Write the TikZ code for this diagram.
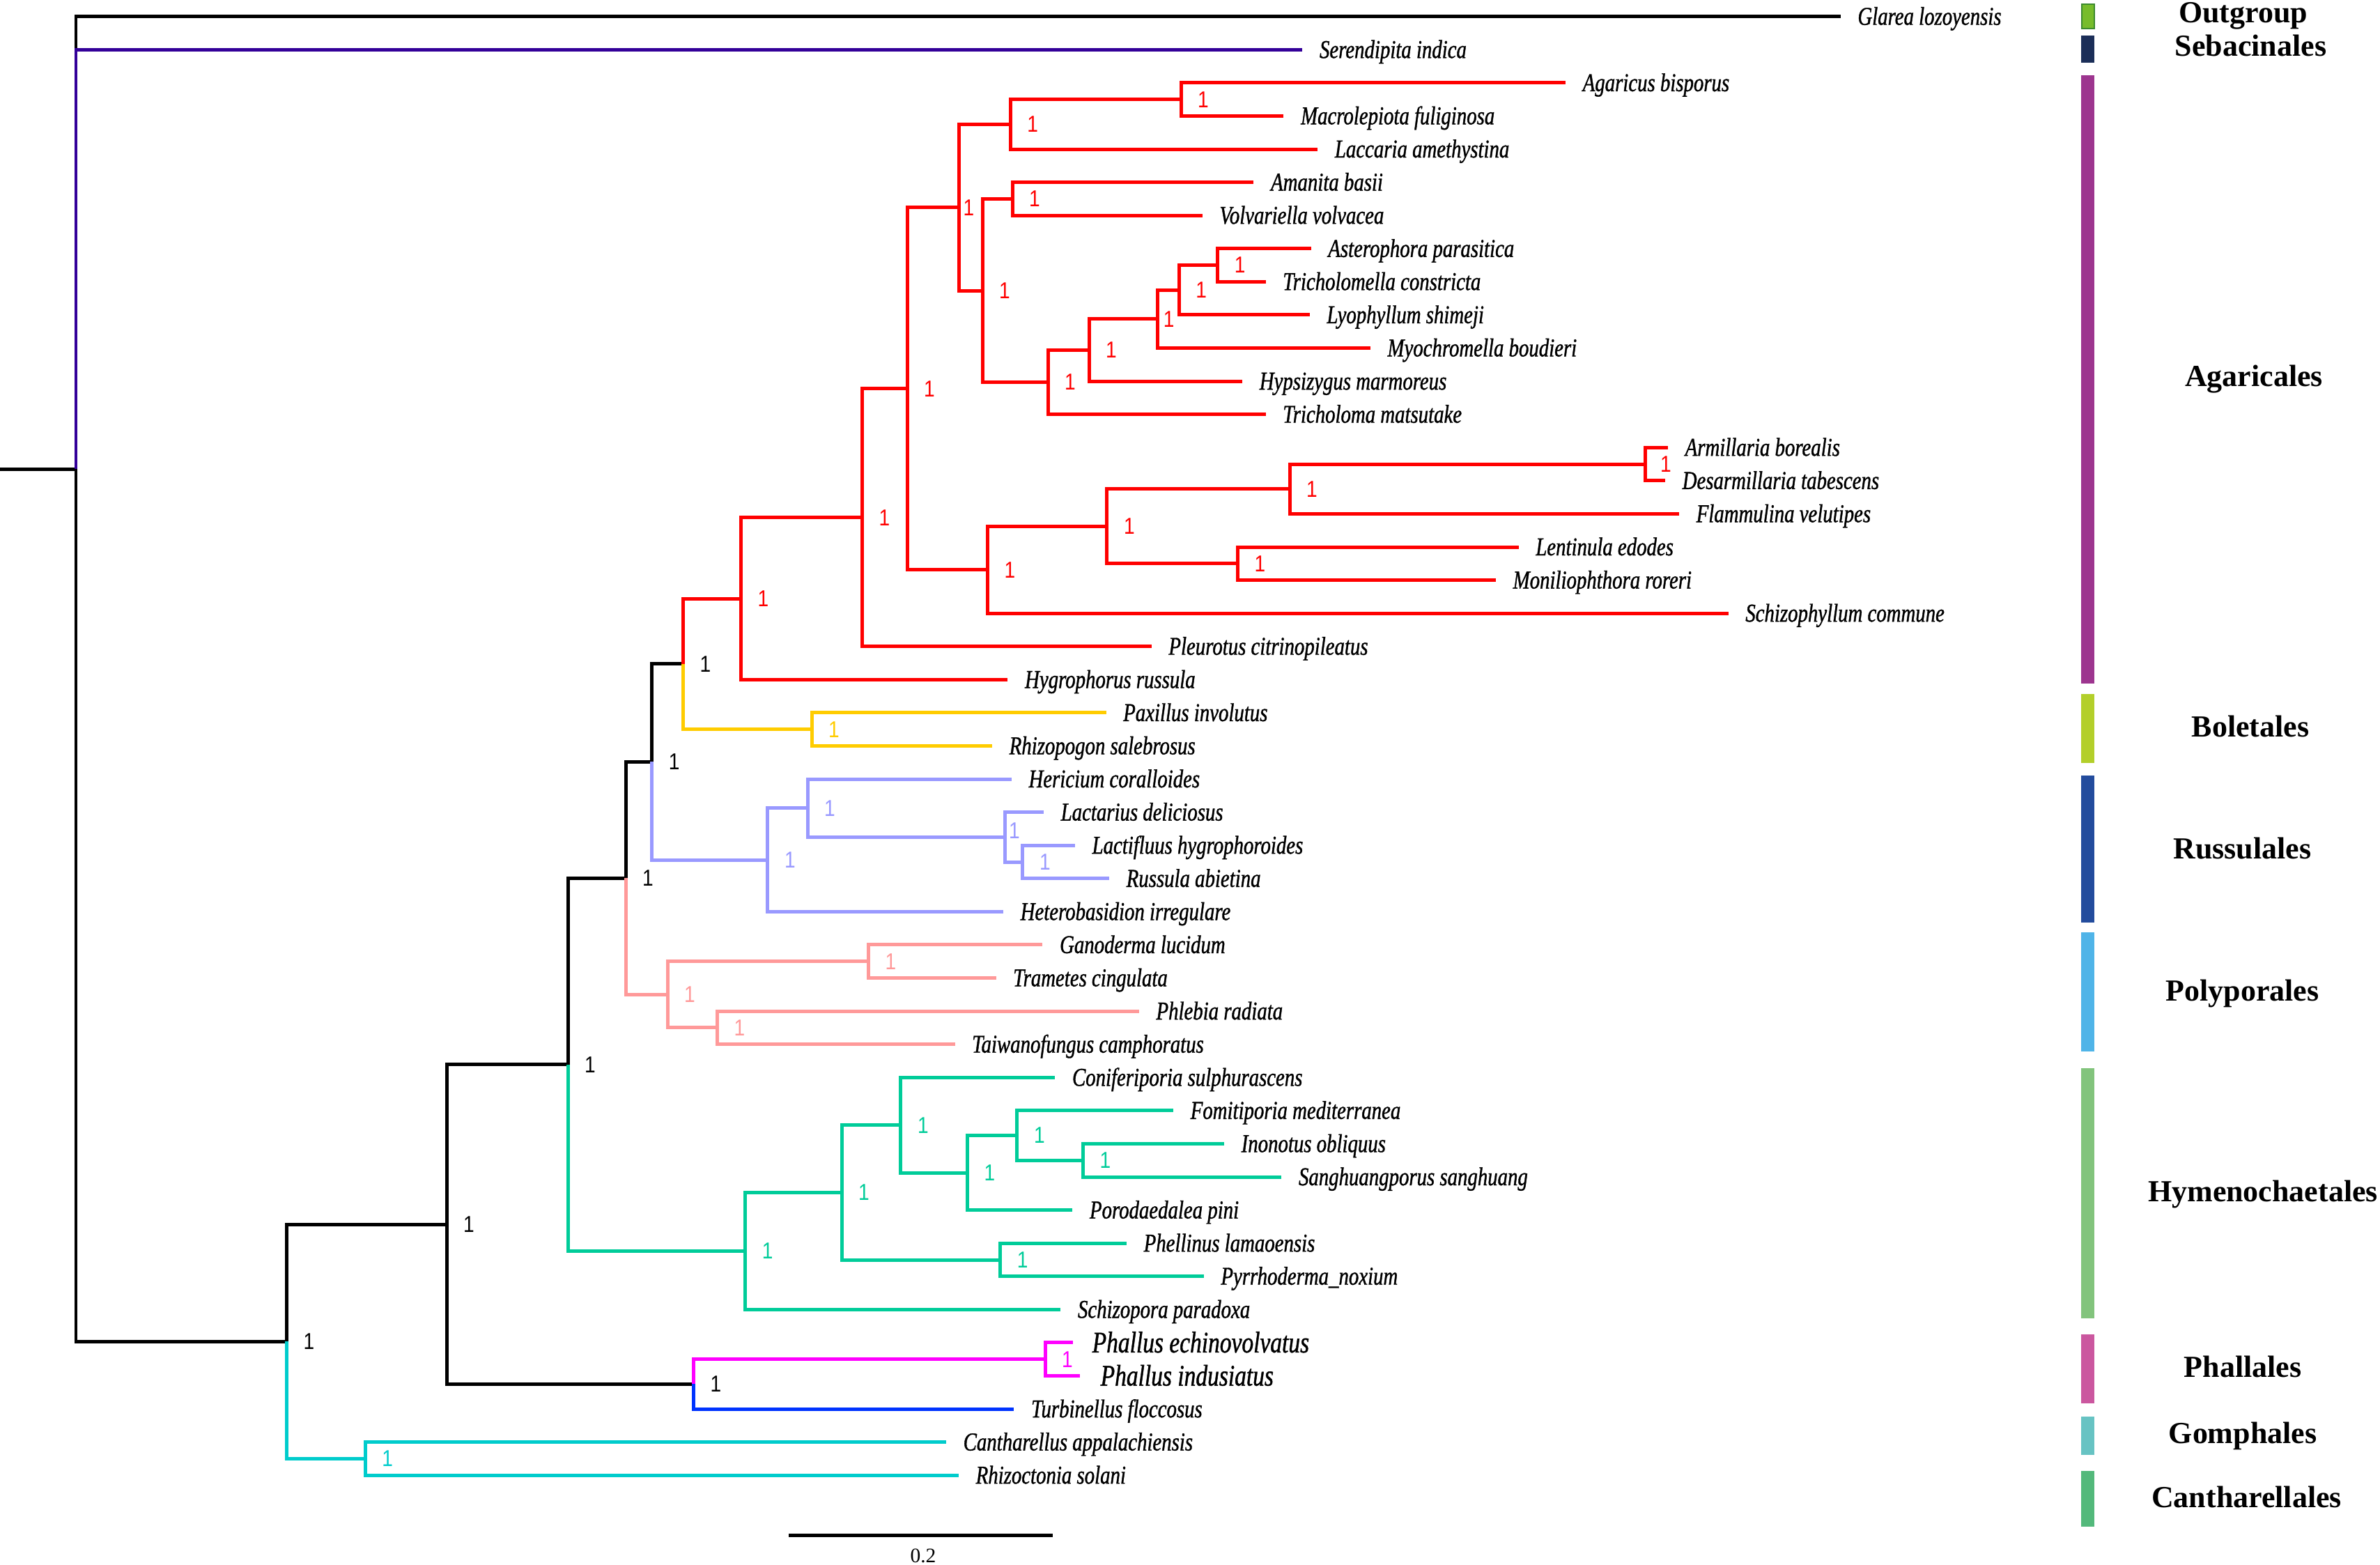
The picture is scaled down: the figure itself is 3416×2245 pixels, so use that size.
\documentclass[tikz,border=0pt]{standalone}
\usepackage{fontspec}
\setmainfont{Liberation Serif}
\newfontfamily\leaffont[FakeStretch=0.78,FakeBold=1]{Liberation Serif}
\newfontfamily\bsfont[FakeStretch=0.85]{Liberation Sans}
\usetikzlibrary{calc}
\definecolor{cPur}{HTML}{330099}
\definecolor{cRed}{HTML}{FF0000}
\definecolor{cYel}{HTML}{FFCC00}
\definecolor{cLav}{HTML}{9999FF}
\definecolor{cPink}{HTML}{FF9999}
\definecolor{cGrn}{HTML}{00CC99}
\definecolor{cMag}{HTML}{FF00FF}
\definecolor{cBlu}{HTML}{0033FF}
\definecolor{cCya}{HTML}{00CCCC}
\definecolor{gOut}{HTML}{77BC2B}
\definecolor{gOutB}{HTML}{3C8A2E}
\definecolor{gSeb}{HTML}{1B2E58}
\definecolor{gAga}{HTML}{9D358F}
\definecolor{gBol}{HTML}{B3CF2A}
\definecolor{gRus}{HTML}{234C9D}
\definecolor{gPol}{HTML}{4FB4E8}
\definecolor{gHym}{HTML}{82C47C}
\definecolor{gPha}{HTML}{CB579F}
\definecolor{gGom}{HTML}{67C3C3}
\definecolor{gCan}{HTML}{53B97B}
\newcommand\brn[3]{\draw[br,#1] (#2) |- (#3);}
\newcommand\lbl[2]{\node[leaf] (t-#1) at ($(#1)+(24,12)$) {#2};}
\newcommand\bsl[3][32]{\node[bs,text=#2] (b-#3) at ($(#3)+(#1,0)$) {1};}
\begin{document}
\begin{tikzpicture}[x=0.01cm,y=-0.01cm,
  br/.style={line width=1.42pt,line join=miter},
  leaf/.style={anchor=base west,inner sep=0pt,font=\leaffont\itshape\fontsize{10.5}{12}\selectfont},
  bigleaf/.style={leaf,font=\leaffont\itshape\fontsize{12.2}{14}\selectfont},
  bs/.style={inner sep=0pt,font=\bsfont\fontsize{9.4}{11}\selectfont},
  ord/.style={anchor=base,inner sep=0pt,font=\bfseries\fontsize{12.5}{15}\selectfont}]
\useasboundingbox (0,0) rectangle (3416,2245);
\fill[white] (0,0) rectangle (3416,2245);
% leaf ends
\coordinate (glar) at (2641.7,23.7);
\coordinate (sere) at (1869.3,71.3);
\coordinate (agar) at (2247,118.9);
\coordinate (macr) at (1842.4,166.4);
\coordinate (lacc) at (1891.2,214.0);
\coordinate (aman) at (1799.4,261.6);
\coordinate (volv) at (1725.7,309.2);
\coordinate (aste) at (1881.6,356.8);
\coordinate (tric1) at (1816.6,404.3);
\coordinate (lyop) at (1879.7,451.9);
\coordinate (myoc) at (1966.8,499.5);
\coordinate (hyps) at (1783.1,547.1);
\coordinate (tric2) at (1816.6,594.7);
\coordinate (arm) at (2394,642.2);
\coordinate (desa) at (2390,689.8);
\coordinate (flam) at (2410,737.4);
\coordinate (lent) at (2179.6,785.0);
\coordinate (moni) at (2147,832.6);
\coordinate (schi) at (2480.6,880.1);
\coordinate (pleu) at (1652.7,927.7);
\coordinate (hygr) at (1446.4,975.3);
\coordinate (paxi) at (1587.5,1022.9);
\coordinate (rhiz) at (1424,1070.5);
\coordinate (heri) at (1451.8,1118.0);
\coordinate (lact) at (1498,1165.6);
\coordinate (lacf) at (1542.9,1213.2);
\coordinate (russ) at (1592,1260.8);
\coordinate (hete) at (1440,1308.4);
\coordinate (gano) at (1496.4,1355.9);
\coordinate (tram) at (1429.5,1403.5);
\coordinate (phle) at (1634.8,1451.1);
\coordinate (taiw) at (1370.5,1498.7);
\coordinate (coni) at (1514.3,1546.3);
\coordinate (fomi) at (1684,1593.8);
\coordinate (inon) at (1757,1641.4);
\coordinate (sang) at (1839.3,1689.0);
\coordinate (poro) at (1539.3,1736.6);
\coordinate (phel) at (1617,1784.2);
\coordinate (pyrr) at (1727.7,1831.7);
\coordinate (schz) at (1522.3,1879.3);
\coordinate (phae) at (1540,1926.9);
\coordinate (phai) at (1550,1974.5);
\coordinate (turb) at (1455.4,2022.1);
\coordinate (cant) at (1358,2069.6);
\coordinate (rhzc) at (1376,2117.2);
% internal nodes
\coordinate (rootstub) at (0,673.4);
\coordinate (root) at (109,673.4);
\coordinate (n189) at (411.4,1925.3);
\coordinate (n241) at (524.2,2093.4);
\coordinate (n295) at (641,1757.2);
\coordinate (n457) at (995.5,1986.4);
\coordinate (n689) at (1500,1950.7);
\coordinate (n374) at (815,1527.9);
\coordinate (n491) at (1069.6,1795.3);
\coordinate (n554) at (1208,1711.3);
\coordinate (n594) at (1292.9,1614.7);
\coordinate (n637) at (1388.4,1683.0);
\coordinate (n670) at (1459.8,1629.5);
\coordinate (n713) at (1554.5,1665.2);
\coordinate (n659) at (1435.7,1808.0);
\coordinate (n413) at (898,1260.4);
\coordinate (n440) at (958,1427.3);
\coordinate (n572) at (1246.4,1379.7);
\coordinate (n472) at (1029.5,1474.9);
\coordinate (n430) at (935.7,1093.4);
\coordinate (n506) at (1101.8,1234.0);
\coordinate (n532) at (1159,1159.7);
\coordinate (n662) at (1442,1201.3);
\coordinate (n674) at (1467.9,1237.0);
\coordinate (n450) at (980.4,952.8);
\coordinate (n535) at (1165,1046.7);
\coordinate (n488) at (1063.4,859.0);
\coordinate (n568) at (1237.5,742.7);
\coordinate (n598) at (1302,557.7);
\coordinate (n632) at (1376.5,297.7);
\coordinate (n666) at (1450.2,178.3);
\coordinate (n778) at (1695,142.65);
\coordinate (n647) at (1410,417.0);
\coordinate (n667) at (1453,285.4);
\coordinate (n690) at (1504,548.6);
\coordinate (n717) at (1563,502.5);
\coordinate (n763) at (1661.6,457.9);
\coordinate (n777) at (1692.2,416.2);
\coordinate (n802) at (1747.7,380.55);
\coordinate (n651) at (1417.3,817.7);
\coordinate (n729) at (1588.8,755.2);
\coordinate (n850) at (1851,701.7);
\coordinate (n1084) at (2361,666.0);
\coordinate (n815) at (1776.5,808.8);
% branches
\draw[br] (rootstub) -- (root);
\brn{black}{root}{glar}
\brn{cPur}{root}{sere}
\brn{black}{root}{n189}
\brn{black}{n189}{n295}
\brn{cCya}{n189}{n241}
\brn{cCya}{n241}{cant}
\brn{cCya}{n241}{rhzc}
\brn{black}{n295}{n374}
\brn{black}{n295}{n457}
\brn{cMag}{n457}{n689}
\brn{cBlu}{n457}{turb}
\brn{cMag}{n689}{phae}
\brn{cMag}{n689}{phai}
\brn{black}{n374}{n413}
\brn{cGrn}{n374}{n491}
\brn{cGrn}{n491}{n554}
\brn{cGrn}{n491}{schz}
\brn{cGrn}{n554}{n594}
\brn{cGrn}{n554}{n659}
\brn{cGrn}{n594}{coni}
\brn{cGrn}{n594}{n637}
\brn{cGrn}{n637}{n670}
\brn{cGrn}{n637}{poro}
\brn{cGrn}{n670}{fomi}
\brn{cGrn}{n670}{n713}
\brn{cGrn}{n713}{inon}
\brn{cGrn}{n713}{sang}
\brn{cGrn}{n659}{phel}
\brn{cGrn}{n659}{pyrr}
\brn{black}{n413}{n430}
\brn{cPink}{n413}{n440}
\brn{cPink}{n440}{n572}
\brn{cPink}{n440}{n472}
\brn{cPink}{n572}{gano}
\brn{cPink}{n572}{tram}
\brn{cPink}{n472}{phle}
\brn{cPink}{n472}{taiw}
\brn{black}{n430}{n450}
\brn{cLav}{n430}{n506}
\brn{cLav}{n506}{n532}
\brn{cLav}{n506}{hete}
\brn{cLav}{n532}{heri}
\brn{cLav}{n532}{n662}
\brn{cLav}{n662}{lact}
\brn{cLav}{n662}{n674}
\brn{cLav}{n674}{lacf}
\brn{cLav}{n674}{russ}
\brn{cRed}{n450}{n488}
\brn{cYel}{n450}{n535}
\brn{cYel}{n535}{paxi}
\brn{cYel}{n535}{rhiz}
\brn{cRed}{n488}{n568}
\brn{cRed}{n488}{hygr}
\brn{cRed}{n568}{n598}
\brn{cRed}{n568}{pleu}
\brn{cRed}{n598}{n632}
\brn{cRed}{n598}{n651}
\brn{cRed}{n632}{n666}
\brn{cRed}{n632}{n647}
\brn{cRed}{n666}{n778}
\brn{cRed}{n666}{lacc}
\brn{cRed}{n778}{agar}
\brn{cRed}{n778}{macr}
\brn{cRed}{n647}{n667}
\brn{cRed}{n647}{n690}
\brn{cRed}{n667}{aman}
\brn{cRed}{n667}{volv}
\brn{cRed}{n690}{n717}
\brn{cRed}{n690}{tric2}
\brn{cRed}{n717}{n763}
\brn{cRed}{n717}{hyps}
\brn{cRed}{n763}{n777}
\brn{cRed}{n763}{myoc}
\brn{cRed}{n777}{n802}
\brn{cRed}{n777}{lyop}
\brn{cRed}{n802}{aste}
\brn{cRed}{n802}{tric1}
\brn{cRed}{n651}{n729}
\brn{cRed}{n651}{schi}
\brn{cRed}{n729}{n850}
\brn{cRed}{n729}{n815}
\brn{cRed}{n850}{n1084}
\brn{cRed}{n850}{flam}
\brn{cRed}{n1084}{arm}
\brn{cRed}{n1084}{desa}
\brn{cRed}{n815}{lent}
\brn{cRed}{n815}{moni}
% leaf labels
\lbl{glar}{Glarea lozoyensis}
\lbl{sere}{Serendipita indica}
\lbl{agar}{Agaricus bisporus}
\lbl{macr}{Macrolepiota fuliginosa}
\lbl{lacc}{Laccaria amethystina}
\lbl{aman}{Amanita basii}
\lbl{volv}{Volvariella volvacea}
\lbl{aste}{Asterophora parasitica}
\lbl{tric1}{Tricholomella constricta}
\lbl{lyop}{Lyophyllum shimeji}
\lbl{myoc}{Myochromella boudieri}
\lbl{hyps}{Hypsizygus marmoreus}
\lbl{tric2}{Tricholoma matsutake}
\lbl{arm}{Armillaria borealis}
\lbl{desa}{Desarmillaria tabescens}
\lbl{flam}{Flammulina velutipes}
\lbl{lent}{Lentinula edodes}
\lbl{moni}{Moniliophthora roreri}
\lbl{schi}{Schizophyllum commune}
\lbl{pleu}{Pleurotus citrinopileatus}
\lbl{hygr}{Hygrophorus russula}
\lbl{paxi}{Paxillus involutus}
\lbl{rhiz}{Rhizopogon salebrosus}
\lbl{heri}{Hericium coralloides}
\lbl{lact}{Lactarius deliciosus}
\lbl{lacf}{Lactifluus hygrophoroides}
\lbl{russ}{Russula abietina}
\lbl{hete}{Heterobasidion irregulare}
\lbl{gano}{Ganoderma lucidum}
\lbl{tram}{Trametes cingulata}
\lbl{phle}{Phlebia radiata}
\lbl{taiw}{Taiwanofungus camphoratus}
\lbl{coni}{Coniferiporia sulphurascens}
\lbl{fomi}{Fomitiporia mediterranea}
\lbl{inon}{Inonotus obliquus}
\lbl{sang}{Sanghuangporus sanghuang}
\lbl{poro}{Porodaedalea pini}
\lbl{phel}{Phellinus lamaoensis}
\lbl{pyrr}{Pyrrhoderma\_noxium}
\lbl{schz}{Schizopora paradoxa}
\node[bigleaf] (t-phae) at ($(phae)+(27,14)$) {Phallus echinovolvatus};
\node[bigleaf] (t-phai) at ($(phai)+(29,14)$) {Phallus indusiatus};
\lbl{turb}{Turbinellus floccosus}
\lbl{cant}{Cantharellus appalachiensis}
\lbl{rhzc}{Rhizoctonia solani}
% support values
\bsl{black}{n189}
\bsl{black}{n295}
\bsl{black}{n374}
\bsl{black}{n413}
\bsl{black}{n430}
\bsl{black}{n450}
\bsl{black}{n457}
\bsl{cCya}{n241}
\bsl{cMag}{n689}
\bsl{cGrn}{n491}
\bsl{cGrn}{n554}
\bsl{cGrn}{n594}
\bsl{cGrn}{n637}
\bsl{cGrn}{n670}
\bsl{cGrn}{n713}
\bsl{cGrn}{n659}
\bsl{cPink}{n440}
\bsl{cPink}{n572}
\bsl{cPink}{n472}
\bsl{cLav}{n506}
\bsl{cLav}{n532}
\node[bs,text=cLav] (b-n662) at ($(n662)+(14,-9)$) {1};
\bsl{cLav}{n674}
\bsl{cYel}{n535}
\bsl{cRed}{n488}
\bsl{cRed}{n568}
\bsl{cRed}{n598}
\bsl[14]{cRed}{n632}
\bsl{cRed}{n666}
\bsl{cRed}{n778}
\bsl{cRed}{n647}
\bsl{cRed}{n667}
\bsl{cRed}{n690}
\bsl{cRed}{n717}
\bsl[16]{cRed}{n763}
\bsl{cRed}{n777}
\bsl{cRed}{n802}
\bsl{cRed}{n651}
\bsl{cRed}{n729}
\bsl{cRed}{n850}
\bsl[30]{cRed}{n1084}
\bsl{cRed}{n815}
% scale bar
\coordinate (sb1) at (1132,2203);
\coordinate (sb2) at (1510.7,2203);
\draw[line width=1.42pt] (sb1) -- (sb2);
\node[inner sep=0pt,anchor=base,font=\fontsize{8.4}{10}\selectfont] (sblab) at (1325,2242) {0.2};
% legend bars
\filldraw[fill=gOut,draw=gOutB,line width=0.6pt] (2988,6) rectangle (3006,41);
\fill[gSeb] (2987,51) rectangle (3006,90);
\fill[gAga] (2987,108) rectangle (3006,980.6);
\fill[gBol] (2987,995.5) rectangle (3006,1094.6);
\fill[gRus] (2987,1112.8) rectangle (3006,1324.4);
\fill[gPol] (2987,1338.4) rectangle (3006,1508.7);
\fill[gHym] (2987,1532.6) rectangle (3006,1892);
\fill[gPha] (2987,1915.3) rectangle (3006,2013.6);
\fill[gGom] (2987,2032.6) rectangle (3006,2088);
\fill[gCan] (2987,2111) rectangle (3006,2191.3);
% legend texts
\node[ord] (o-out) at (3219.5,32) {Outgroup};
\node[ord] (o-seb) at (3230.5,80) {Sebacinales};
\node[ord] (o-aga) at (3235,554) {Agaricales};
\node[ord] (o-bol) at (3230,1057.4) {Boletales};
\node[ord] (o-rus) at (3218.5,1232.6) {Russulales};
\node[ord] (o-pol) at (3218.5,1436) {Polyporales};
\node[ord] (o-hym) at (3248,1724.4) {Hymenochaetales};
\node[ord] (o-pha) at (3219,1976.4) {Phallales};
\node[ord] (o-gom) at (3219,2071.5) {Gomphales};
\node[ord] (o-can) at (3224.5,2163.2) {Cantharellales};
\end{tikzpicture}
\end{document}
